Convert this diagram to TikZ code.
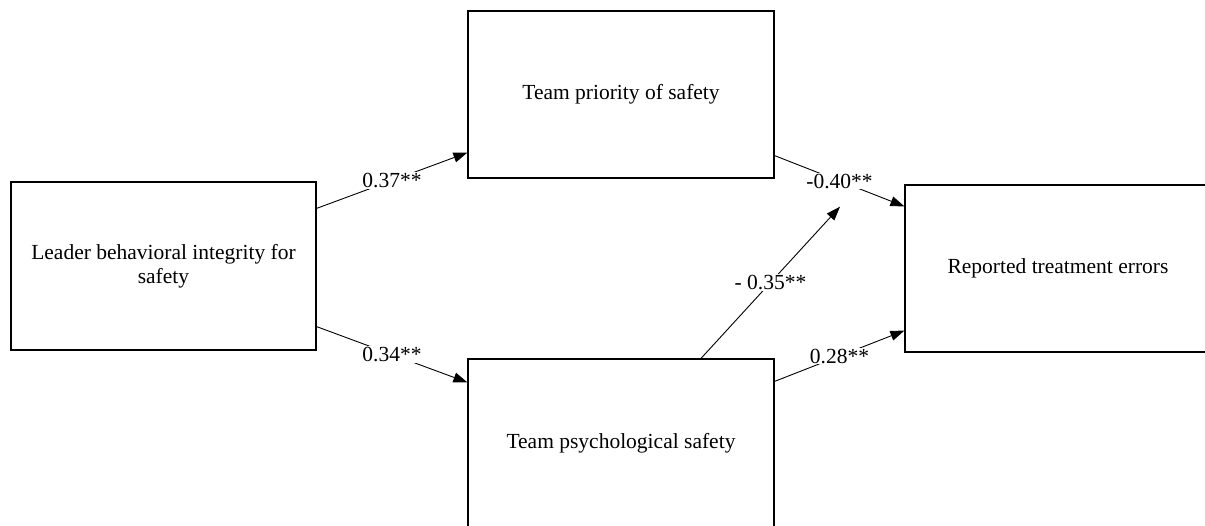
\documentclass[tikz,border=0pt]{standalone}
\usepackage{fontspec}
\setmainfont{Liberation Serif}
\usetikzlibrary{arrows.meta,calc}
\begin{document}
\begin{tikzpicture}[x=1pt,y=-1pt,
  varbox/.style={draw=black,line width=1.2pt,inner sep=0pt,align=center,
    font=\fontsize{21.5}{24.5}\selectfont},
  path/.style={draw=black,line width=0.9pt,-{Triangle[length=14pt,width=10pt]}},
  coef/.style={fill=white,inner sep=1pt,font=\fontsize{21.5}{25}\selectfont}]
\useasboundingbox (0,0) rectangle (1205,525);
\clip (0,0) rectangle (1205,525);
\node[varbox,minimum width=305pt,minimum height=168pt] (L) at (163.5,266) {Leader behavioral integrity for\\safety};
\node[varbox,minimum width=306pt,minimum height=167pt] (T) at (621,94.5) {Team priority of safety};
\node[varbox,minimum width=306pt,minimum height=168pt] (B) at (621,443) {Team psychological safety};
\node[varbox,minimum width=306pt,minimum height=167pt] (R) at (1058,268.5) {Reported treatment errors};
\coordinate (M) at (840,206.7);
\draw[path] ($(L.north east)+(0,27)$) -- node[coef]{0.37**} ($(T.south west)+(0,-26)$);
\draw[path] ($(L.south east)+(0,-24)$) -- node[coef]{0.34**} ($(B.north west)+(0,24)$);
\draw[path] ($(T.south east)+(0,-23)$) -- node[coef]{-0.40**} ($(R.north west)+(0,22)$);
\draw[path] ($(B.north east)+(0,23)$) -- node[coef]{0.28**} ($(R.south west)+(0,-22)$);
\draw[path] ($(B.north)+(80,0)$) -- node[coef]{- 0.35**} (M);
\end{tikzpicture}
\end{document}
